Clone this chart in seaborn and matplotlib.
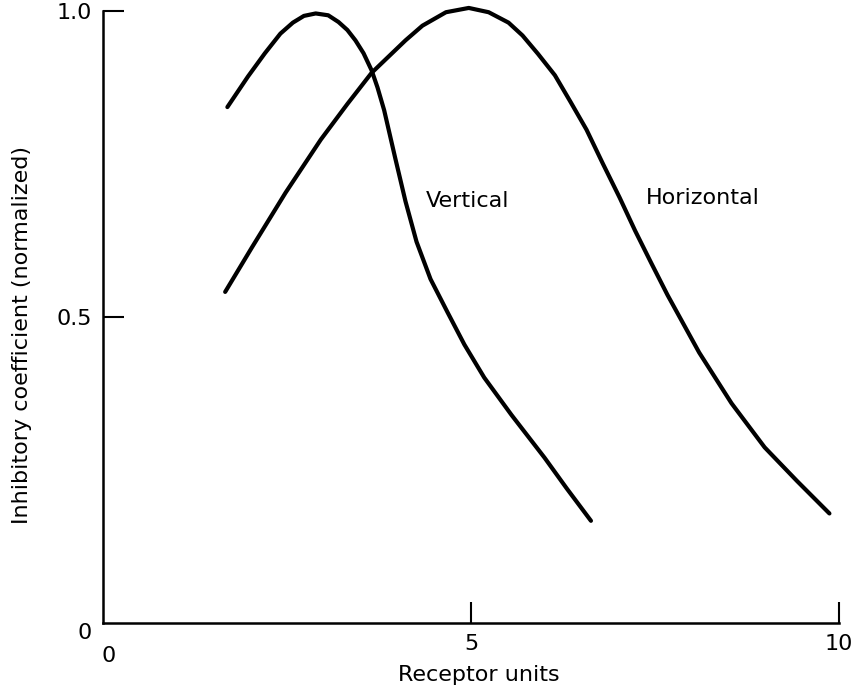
import matplotlib
matplotlib.use("Agg")
import matplotlib.pyplot as plt
import matplotlib.transforms as mtransforms
import seaborn as sns
import pandas as pd

# ---- data ----
vertical_x = [1.69, 1.97, 2.20, 2.41, 2.58, 2.73, 2.89, 3.06, 3.20, 3.32, 3.43, 3.54,
              3.65, 3.73, 3.82, 3.97, 4.11, 4.26, 4.45, 4.68, 4.91, 5.18, 5.55, 6.00,
              6.30, 6.63]
vertical_y = [0.843, 0.893, 0.931, 0.963, 0.981, 0.992, 0.996, 0.993, 0.982, 0.969, 0.952, 0.931,
              0.903, 0.875, 0.838, 0.760, 0.689, 0.623, 0.562, 0.508, 0.455, 0.401, 0.340, 0.270,
              0.220, 0.167]

horizontal_x = [1.66, 2.02, 2.48, 2.96, 3.32, 3.65, 4.11, 4.34, 4.66, 4.97, 5.24, 5.51,
                5.70, 5.91, 6.14, 6.35, 6.57, 6.79, 7.02, 7.23, 7.45, 7.67, 8.10, 8.54,
                8.99, 9.43, 9.87]
horizontal_y = [0.541, 0.613, 0.703, 0.790, 0.848, 0.899, 0.952, 0.976, 0.998, 1.005, 0.998, 0.981,
                0.960, 0.930, 0.895, 0.852, 0.806, 0.751, 0.695, 0.641, 0.588, 0.536, 0.442, 0.359,
                0.287, 0.232, 0.179]

series_names = ["Vertical", "Horizontal"]
x_ticks = [0, 5, 10]
x_tick_labels = ["0", "5", "10"]
y_ticks = [0, 0.5, 1.0]
y_tick_labels = ["0", "0.5", "1.0"]
x_label = "Receptor units"
y_label = "Inhibitory coefficient (normalized)"

df = pd.concat([
    pd.DataFrame({"x": vertical_x, "y": vertical_y, "series": series_names[0]}),
    pd.DataFrame({"x": horizontal_x, "y": horizontal_y, "series": series_names[1]}),
], ignore_index=True)

sns.set_style("white")
plt.rcParams["font.family"] = ["DejaVu Sans"]
plt.rcParams["text.color"] = "black"
plt.rcParams["axes.labelcolor"] = "black"
plt.rcParams["xtick.color"] = "black"
plt.rcParams["ytick.color"] = "black"

fig = plt.figure(figsize=(8.59, 6.92), dpi=100)
ax = fig.add_axes([0.1199, 0.0997, 0.8568, 0.8844])

sns.lineplot(data=df, x="x", y="y", hue="series", units="series", estimator=None,
             sort=False, palette={"Vertical": "black", "Horizontal": "black"},
             linewidth=3.0, legend=False, ax=ax, clip_on=False,
             solid_capstyle="round", solid_joinstyle="round")

ax.set_xlim(0, 10)
ax.set_ylim(0, 1.0)

for side in ["top", "right"]:
    ax.spines[side].set_visible(False)
for side in ["left", "bottom"]:
    ax.spines[side].set_linewidth(1.8)
    ax.spines[side].set_color("black")

ax.set_xticks(x_ticks)
ax.set_xticklabels(x_tick_labels)
ax.set_yticks(y_ticks)
ax.set_yticklabels(y_tick_labels)
ax.tick_params(bottom=True, left=True, direction="in", length=15, width=1.5,
               labelsize=16, pad=8, colors="black")

# no tick marks at the origin
ax.xaxis.get_major_ticks()[0].tick1line.set_visible(False)
ax.yaxis.get_major_ticks()[0].tick1line.set_visible(False)

# nudge origin labels like the reference
xl0 = ax.get_xticklabels()[0]
xl0.set_transform(xl0.get_transform() + mtransforms.ScaledTranslation(0.06, -0.12, fig.dpi_scale_trans))
yl0 = ax.get_yticklabels()[0]
yl0.set_transform(yl0.get_transform() + mtransforms.ScaledTranslation(0.0, -0.08, fig.dpi_scale_trans))

ax.set_xlabel(x_label, fontsize=16)
ax.set_ylabel(y_label, fontsize=16)
ax.xaxis.set_label_coords(0.51, -0.068)
ax.yaxis.set_label_coords(-0.0965, 0.47)

ax.text(4.38, 0.69, series_names[0], fontsize=16, ha="left", va="center")
ax.text(7.37, 0.695, series_names[1], fontsize=16, ha="left", va="center")

fig.savefig("out.png", dpi=100, facecolor="white")
